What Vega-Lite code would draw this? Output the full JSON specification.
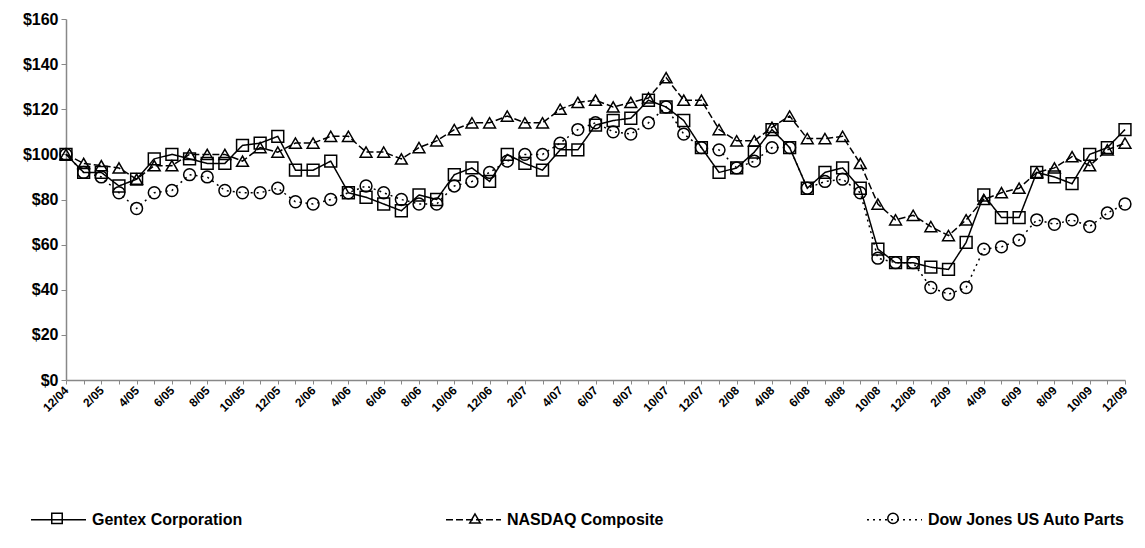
{
  "$schema": "https://vega.github.io/schema/vega-lite/v6.json",
  "autosize": "none",
  "width": 1059,
  "height": 361,
  "padding": {"left": 66, "top": 19, "right": 20, "bottom": 168},
  "background": "white",
  "config": {"view": {"stroke": null}, "font": "Liberation Sans"},
  "data": {"values": [
    {"m": "12/04", "Gentex Corporation": 100, "NASDAQ Composite": 100, "Dow Jones US Auto Parts": 100},
    {"m": "1/05", "Gentex Corporation": 92, "NASDAQ Composite": 96, "Dow Jones US Auto Parts": 92},
    {"m": "2/05", "Gentex Corporation": 92, "NASDAQ Composite": 95, "Dow Jones US Auto Parts": 90},
    {"m": "3/05", "Gentex Corporation": 86, "NASDAQ Composite": 94, "Dow Jones US Auto Parts": 83},
    {"m": "4/05", "Gentex Corporation": 89, "NASDAQ Composite": 89, "Dow Jones US Auto Parts": 76},
    {"m": "5/05", "Gentex Corporation": 98, "NASDAQ Composite": 95, "Dow Jones US Auto Parts": 83},
    {"m": "6/05", "Gentex Corporation": 100, "NASDAQ Composite": 95, "Dow Jones US Auto Parts": 84},
    {"m": "7/05", "Gentex Corporation": 98, "NASDAQ Composite": 100, "Dow Jones US Auto Parts": 91},
    {"m": "8/05", "Gentex Corporation": 96, "NASDAQ Composite": 100, "Dow Jones US Auto Parts": 90},
    {"m": "9/05", "Gentex Corporation": 96, "NASDAQ Composite": 100, "Dow Jones US Auto Parts": 84},
    {"m": "10/05", "Gentex Corporation": 104, "NASDAQ Composite": 97, "Dow Jones US Auto Parts": 83},
    {"m": "11/05", "Gentex Corporation": 105, "NASDAQ Composite": 103, "Dow Jones US Auto Parts": 83},
    {"m": "12/05", "Gentex Corporation": 108, "NASDAQ Composite": 101, "Dow Jones US Auto Parts": 85},
    {"m": "1/06", "Gentex Corporation": 93, "NASDAQ Composite": 105, "Dow Jones US Auto Parts": 79},
    {"m": "2/06", "Gentex Corporation": 93, "NASDAQ Composite": 105, "Dow Jones US Auto Parts": 78},
    {"m": "3/06", "Gentex Corporation": 97, "NASDAQ Composite": 108, "Dow Jones US Auto Parts": 80},
    {"m": "4/06", "Gentex Corporation": 83, "NASDAQ Composite": 108, "Dow Jones US Auto Parts": 83},
    {"m": "5/06", "Gentex Corporation": 81, "NASDAQ Composite": 101, "Dow Jones US Auto Parts": 86},
    {"m": "6/06", "Gentex Corporation": 78, "NASDAQ Composite": 101, "Dow Jones US Auto Parts": 83},
    {"m": "7/06", "Gentex Corporation": 75, "NASDAQ Composite": 98, "Dow Jones US Auto Parts": 80},
    {"m": "8/06", "Gentex Corporation": 82, "NASDAQ Composite": 103, "Dow Jones US Auto Parts": 78},
    {"m": "9/06", "Gentex Corporation": 80, "NASDAQ Composite": 106, "Dow Jones US Auto Parts": 78},
    {"m": "10/06", "Gentex Corporation": 91, "NASDAQ Composite": 111, "Dow Jones US Auto Parts": 86},
    {"m": "11/06", "Gentex Corporation": 94, "NASDAQ Composite": 114, "Dow Jones US Auto Parts": 88},
    {"m": "12/06", "Gentex Corporation": 88, "NASDAQ Composite": 114, "Dow Jones US Auto Parts": 92},
    {"m": "1/07", "Gentex Corporation": 100, "NASDAQ Composite": 117, "Dow Jones US Auto Parts": 97},
    {"m": "2/07", "Gentex Corporation": 96, "NASDAQ Composite": 114, "Dow Jones US Auto Parts": 100},
    {"m": "3/07", "Gentex Corporation": 93, "NASDAQ Composite": 114, "Dow Jones US Auto Parts": 100},
    {"m": "4/07", "Gentex Corporation": 102, "NASDAQ Composite": 120, "Dow Jones US Auto Parts": 105},
    {"m": "5/07", "Gentex Corporation": 102, "NASDAQ Composite": 123, "Dow Jones US Auto Parts": 111},
    {"m": "6/07", "Gentex Corporation": 113, "NASDAQ Composite": 124, "Dow Jones US Auto Parts": 114},
    {"m": "7/07", "Gentex Corporation": 115, "NASDAQ Composite": 121, "Dow Jones US Auto Parts": 110},
    {"m": "8/07", "Gentex Corporation": 116, "NASDAQ Composite": 123, "Dow Jones US Auto Parts": 109},
    {"m": "9/07", "Gentex Corporation": 124, "NASDAQ Composite": 125, "Dow Jones US Auto Parts": 114},
    {"m": "10/07", "Gentex Corporation": 121, "NASDAQ Composite": 134, "Dow Jones US Auto Parts": 121},
    {"m": "11/07", "Gentex Corporation": 115, "NASDAQ Composite": 124, "Dow Jones US Auto Parts": 109},
    {"m": "12/07", "Gentex Corporation": 103, "NASDAQ Composite": 124, "Dow Jones US Auto Parts": 103},
    {"m": "1/08", "Gentex Corporation": 92, "NASDAQ Composite": 111, "Dow Jones US Auto Parts": 102},
    {"m": "2/08", "Gentex Corporation": 94, "NASDAQ Composite": 106, "Dow Jones US Auto Parts": 94},
    {"m": "3/08", "Gentex Corporation": 101, "NASDAQ Composite": 106, "Dow Jones US Auto Parts": 97},
    {"m": "4/08", "Gentex Corporation": 111, "NASDAQ Composite": 112, "Dow Jones US Auto Parts": 103},
    {"m": "5/08", "Gentex Corporation": 103, "NASDAQ Composite": 117, "Dow Jones US Auto Parts": 103},
    {"m": "6/08", "Gentex Corporation": 85, "NASDAQ Composite": 107, "Dow Jones US Auto Parts": 85},
    {"m": "7/08", "Gentex Corporation": 92, "NASDAQ Composite": 107, "Dow Jones US Auto Parts": 88},
    {"m": "8/08", "Gentex Corporation": 94, "NASDAQ Composite": 108, "Dow Jones US Auto Parts": 89},
    {"m": "9/08", "Gentex Corporation": 85, "NASDAQ Composite": 96, "Dow Jones US Auto Parts": 83},
    {"m": "10/08", "Gentex Corporation": 58, "NASDAQ Composite": 78, "Dow Jones US Auto Parts": 54},
    {"m": "11/08", "Gentex Corporation": 52, "NASDAQ Composite": 71, "Dow Jones US Auto Parts": 52},
    {"m": "12/08", "Gentex Corporation": 52, "NASDAQ Composite": 73, "Dow Jones US Auto Parts": 52},
    {"m": "1/09", "Gentex Corporation": 50, "NASDAQ Composite": 68, "Dow Jones US Auto Parts": 41},
    {"m": "2/09", "Gentex Corporation": 49, "NASDAQ Composite": 64, "Dow Jones US Auto Parts": 38},
    {"m": "3/09", "Gentex Corporation": 61, "NASDAQ Composite": 71, "Dow Jones US Auto Parts": 41},
    {"m": "4/09", "Gentex Corporation": 82, "NASDAQ Composite": 80, "Dow Jones US Auto Parts": 58},
    {"m": "5/09", "Gentex Corporation": 72, "NASDAQ Composite": 83, "Dow Jones US Auto Parts": 59},
    {"m": "6/09", "Gentex Corporation": 72, "NASDAQ Composite": 85, "Dow Jones US Auto Parts": 62},
    {"m": "7/09", "Gentex Corporation": 92, "NASDAQ Composite": 92, "Dow Jones US Auto Parts": 71},
    {"m": "8/09", "Gentex Corporation": 90, "NASDAQ Composite": 94, "Dow Jones US Auto Parts": 69},
    {"m": "9/09", "Gentex Corporation": 87, "NASDAQ Composite": 99, "Dow Jones US Auto Parts": 71},
    {"m": "10/09", "Gentex Corporation": 100, "NASDAQ Composite": 95, "Dow Jones US Auto Parts": 68},
    {"m": "11/09", "Gentex Corporation": 103, "NASDAQ Composite": 102, "Dow Jones US Auto Parts": 74},
    {"m": "12/09", "Gentex Corporation": 111, "NASDAQ Composite": 105, "Dow Jones US Auto Parts": 78}
  ]},
  "transform": [
    {"fold": ["Gentex Corporation", "NASDAQ Composite", "Dow Jones US Auto Parts"], "as": ["s", "v"]}
  ],
  "encoding": {
    "x": {
      "field": "m", "type": "ordinal", "sort": null,
      "scale": {"type": "point", "padding": 0},
      "axis": {
        "title": null, "labelAngle": -45, "labelAlign": "right", "labelBaseline": "middle",
        "labelExpr": "parseInt(substring(datum.value, 0, indexof(datum.value, '/'))) % 2 == 0 ? datum.value : ''",
        "labelOverlap": false, "labelBound": false, "labelFontSize": 12, "labelFontWeight": "bold",
        "labelColor": "black", "labelPadding": 4, "tickSize": 4, "domainColor": "#888", "tickColor": "#888",
        "domainWidth": 1.5, "grid": false
      }
    },
    "y": {
      "field": "v", "type": "quantitative",
      "scale": {"domain": [0, 160], "nice": false},
      "axis": {
        "title": null, "values": [0, 20, 40, 60, 80, 100, 120, 140, 160],
        "labelExpr": "'$' + datum.value", "grid": false, "domainColor": "#888", "tickColor": "#888",
        "domainWidth": 1.5, "tickSize": 5, "labelFontSize": 16, "labelFontWeight": "bold",
        "labelColor": "black", "labelPadding": 3
      }
    }
  },
  "layer": [
    {
      "mark": {"type": "line", "stroke": "black", "strokeWidth": 1.5},
      "encoding": {
        "strokeDash": {
          "field": "s", "type": "nominal",
          "scale": {"domain": ["Gentex Corporation", "NASDAQ Composite", "Dow Jones US Auto Parts", "-"], "range": [[1, 0], [7, 3], [2, 4], [1, 0]]},
          "legend": {
            "title": null, "values": ["Gentex Corporation", "NASDAQ Composite", "Dow Jones US Auto Parts"],
            "orient": "none", "legendX": -36, "legendY": 472, "direction": "horizontal",
            "columns": 3, "columnPadding": 200, "padding": 0,
            "labelFont": "Liberation Sans", "labelFontSize": 16,
            "labelFontWeight": "bold", "labelColor": "black", "labelOffset": 5, "labelLimit": 500,
            "symbolType": "stroke", "symbolSize": 3025, "symbolStrokeWidth": 1.5, "symbolStrokeColor": "black"
          }
        }
      }
    },
    {
      "mark": {"type": "point", "filled": false, "stroke": "black", "strokeWidth": 1.5, "opacity": 1, "size": 140},
      "encoding": {
        "shape": {
          "field": "s", "type": "nominal",
          "scale": {"domain": ["Gentex Corporation", "NASDAQ Composite", "Dow Jones US Auto Parts"], "range": ["square", "triangle-up", "circle"]},
          "legend": {
            "title": null, "orient": "none", "legendX": -17, "legendY": 491, "direction": "horizontal",
            "columns": 3, "columnPadding": 400, "padding": 0,
            "labelExpr": "''", "labelFontSize": 16, "labelOffset": 0,
            "symbolSize": 110, "symbolStrokeWidth": 1.5, "symbolStrokeColor": "black", "symbolFillColor": "white",
            "encode": {"symbols": {"update": {"fill": {"value": "white"}, "opacity": {"value": 1}}}}
          }
        }
      }
    }
  ]
}
